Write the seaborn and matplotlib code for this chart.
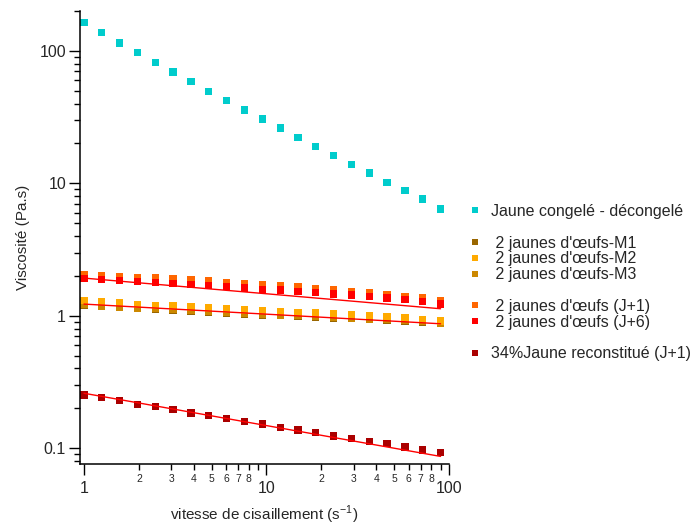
import numpy as np
import pandas as pd
import seaborn as sns
import matplotlib.pyplot as plt
from matplotlib.lines import Line2D
from matplotlib.ticker import LogLocator, FuncFormatter, NullFormatter

# shear rate (s-1)
shear_rate = [1.0, 1.25, 1.57, 1.96, 2.46, 3.08, 3.86, 4.83, 6.05, 7.57, 9.48,
              11.9, 14.9, 18.6, 23.3, 29.2, 36.6, 45.8, 57.3, 71.8, 89.9]

# viscosities (Pa.s)
jaune_congele = [163.7, 136.9, 115.0, 97.1, 81.6, 69.4, 58.6, 49.6, 42.1, 35.8, 30.6,
                 26.2, 22.2, 19.0, 16.3, 13.9, 12.0, 10.2, 8.8, 7.6, 6.4]
m1 = [1.197, 1.169, 1.149, 1.129, 1.116, 1.097, 1.084, 1.066, 1.047, 1.029, 1.012,
      1.0, 0.988, 0.977, 0.960, 0.949, 0.933, 0.922, 0.906, 0.891, 0.870]
m2 = [1.298, 1.275, 1.254, 1.217, 1.197, 1.183, 1.163, 1.143, 1.123, 1.104, 1.091,
      1.078, 1.060, 1.047, 1.029, 1.018, 1.0, 0.983, 0.960, 0.938, 0.915]
m3 = [1.215, 1.187, 1.166, 1.146, 1.133, 1.113, 1.100, 1.082, 1.063, 1.045, 1.028,
      1.015, 1.003, 0.992, 0.975, 0.963, 0.947, 0.936, 0.920, 0.904, 0.884]
j1 = [2.04, 2.01, 1.98, 1.955, 1.93, 1.90, 1.865, 1.83, 1.79, 1.755, 1.72,
      1.685, 1.65, 1.615, 1.57, 1.53, 1.49, 1.45, 1.405, 1.36, 1.29]
j6 = [1.913, 1.869, 1.837, 1.815, 1.775, 1.744, 1.724, 1.684, 1.655, 1.617, 1.580,
      1.562, 1.526, 1.491, 1.457, 1.432, 1.399, 1.359, 1.321, 1.283, 1.225]
reconstitue = [0.252, 0.242, 0.230, 0.215, 0.206, 0.195, 0.184, 0.177, 0.167, 0.159, 0.152,
               0.144, 0.137, 0.131, 0.124, 0.118, 0.113, 0.108, 0.102, 0.097, 0.093]

# power-law fit lines (end points)
fit_x = [1.0, 89.9]
fit_j6 = [1.925, 1.13]
fit_m = [1.225, 0.870]
fit_rec = [0.26, 0.0867]

labels = ["Jaune congelé - décongelé", " 2 jaunes d'œufs-M1", " 2 jaunes d'œufs-M2",
          " 2 jaunes d'œufs-M3", " 2 jaunes d'œufs (J+1)", " 2 jaunes d'œufs (J+6)",
          "34%Jaune reconstitué (J+1)"]
colors = ["#00CCCC", "#996600", "#FFAA00", "#CC8800", "#FF6600", "#FF0000", "#AA0000"]
series = [jaune_congele, m1, m2, m3, j1, j6, reconstitue]
draw_order = [0, 1, 3, 2, 4, 5, 6]

df = pd.concat([pd.DataFrame({"x": shear_rate, "y": series[i], "serie": labels[i]})
                for i in draw_order], ignore_index=True)

sns.set_style("ticks")
plt.rcParams['font.family'] = ['Liberation Sans', 'DejaVu Sans']

fig = plt.figure(figsize=(6.91, 5.25), dpi=100)
ax = fig.add_axes([80 / 691, 1 - 464 / 525, 369 / 691, 453 / 525])

sns.scatterplot(data=df, x="x", y="y", hue="serie", palette=dict(zip(labels, colors)),
                marker="s", s=28, linewidth=0, legend=False, ax=ax, zorder=2)
for fy in [fit_j6, fit_m, fit_rec]:
    ax.plot(fit_x, fy, color="#FF0000", lw=1.0, zorder=3)

ax.set_xscale("log")
ax.set_yscale("log")
ax.set_xlim(0.951, 100)
ax.set_ylim(0.076, 200)

sns.despine(ax=ax)
for sp in ["left", "bottom"]:
    ax.spines[sp].set_linewidth(1.1)
    ax.spines[sp].set_color("black")

ax.xaxis.set_major_locator(LogLocator(base=10, numticks=10))
ax.xaxis.set_minor_locator(LogLocator(base=10, subs=range(2, 10), numticks=20))
ax.yaxis.set_major_locator(LogLocator(base=10, numticks=10))
ax.yaxis.set_minor_locator(LogLocator(base=10, subs=range(2, 10), numticks=20))
ax.xaxis.set_major_formatter(FuncFormatter(lambda v, p: "%g" % v))
ax.yaxis.set_major_formatter(FuncFormatter(lambda v, p: "%g" % v))


def minor_label(v, p):
    m = int(round(v / 10 ** np.floor(np.log10(v))))
    return str(m) if 2 <= m <= 8 else ""


ax.xaxis.set_minor_formatter(FuncFormatter(minor_label))
ax.yaxis.set_minor_formatter(NullFormatter())

ax.tick_params(which="major", length=8, width=1, labelsize=11.5, color="black", pad=2)
ax.tick_params(axis="x", which="major", pad=4)
ax.tick_params(which="minor", length=4, width=1, color="black")
ax.tick_params(axis="x", which="minor", labelsize=7.5, pad=3.5)

ax.set_xlabel("vitesse de cisaillement (s$^{\\mathregular{-1}}$)", fontsize=11, labelpad=6)
ax.set_ylabel("Viscosité (Pa.s)", fontsize=11, labelpad=7)

# legend with blank rows between groups
blank = Line2D([], [], linestyle="none", marker=None)
handles, leg_labels = [], []
groups = [[0], [1, 2, 3], [4, 5], [6]]
for gi, g in enumerate(groups):
    if gi > 0:
        handles.append(blank)
        leg_labels.append("")
    for i in g:
        handles.append(Line2D([], [], linestyle="none", marker="s", markersize=5,
                              markeredgewidth=0, color=colors[i]))
        leg_labels.append(labels[i])

fig.legend(handles, leg_labels, loc="upper left", bbox_to_anchor=(469 / 691, 1 - 204 / 525),
           frameon=False, fontsize=11.5, handlelength=0.8, handletextpad=0.6,
           labelspacing=0.05, borderpad=0, borderaxespad=0)

fig.savefig("out.png", dpi=100)
